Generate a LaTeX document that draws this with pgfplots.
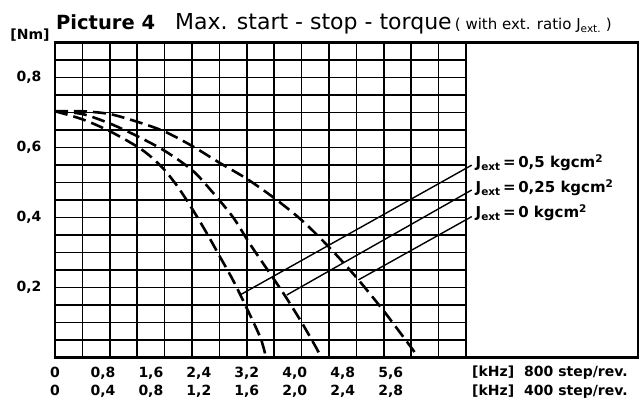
\documentclass[border=0pt]{standalone}
\usepackage{pgfplots}
\pgfplotsset{compat=1.18}
\usepackage{fontspec}
\setmainfont{DejaVu Sans}
\newcommand{\lab}{\bfseries\fontsize{14}{18.3}\selectfont}
\begin{document}
\begin{tikzpicture}
\begin{axis}[
  scale only axis, width=411pt, height=315pt,
  xmin=0, xmax=6.857143, ymin=0, ymax=0.9,
  clip=false,
  axis line style={line width=2.6pt},
  xtick={0.457143,0.914286,1.371429,1.828571,2.285714,2.742857,3.2,3.657143,4.114286,4.571429,5.028571,5.485714,5.942857,6.4},
  ytick={0.05,0.1,0.15,0.2,0.25,0.3,0.35,0.4,0.45,0.5,0.55,0.6,0.65,0.7,0.75,0.8,0.85},
  xticklabels={}, yticklabels={},
  grid=major, major grid style={black, line width=1.6pt},
  major tick length=0pt,
  extra x ticks={0,0.8,1.6,2.4,3.2,4.0,4.8,5.6},
  extra x tick labels={{0\\0},{0,8\\0,4},{1,6\\0,8},{2,4\\1,2},{3,2\\1,6},{4,0\\2,0},{4,8\\2,4},{5,6\\2,8}},
  extra y ticks={0.2,0.4,0.6,0.8},
  extra y tick labels={{0,2},{0,4},{0,6},{0,8}},
  extra tick style={grid=none, major tick length=0pt},
  xticklabel style={align=center, font=\lab, yshift=-6pt},
  yticklabel style={font=\bfseries\fontsize{14}{14}\selectfont, xshift=-10pt},
]
\coordinate (O) at (rel axis cs:0,0);
% J_ext = 0.5 kgcm^2
\addplot[black, line width=2.6pt, dash pattern=on 13pt off 6pt, smooth] coordinates {
(0,0.703) (0.457,0.68) (0.914,0.646) (1.371,0.602) (1.6,0.573) (1.829,0.535) (2.057,0.485) (2.286,0.425) (2.514,0.36) (2.743,0.29) (2.971,0.22) (3.2,0.14) (3.429,0.055) (3.52,0)};
% J_ext = 0.25 kgcm^2
\addplot[black, line width=2.6pt, dash pattern=on 13pt off 6pt, smooth] coordinates {
(0,0.703) (0.457,0.695) (0.914,0.668) (1.371,0.632) (1.829,0.59) (2.286,0.535) (2.587,0.48) (2.971,0.40) (3.259,0.322) (3.657,0.222) (3.867,0.168) (4.114,0.10) (4.343,0.032) (4.44,0)};
% J_ext = 0 kgcm^2
\addplot[black, line width=2.6pt, dash pattern=on 13pt off 6pt, smooth] coordinates {
(0,0.703) (0.457,0.703) (0.914,0.695) (1.371,0.673) (1.829,0.645) (2.286,0.604) (2.743,0.556) (3.2,0.51) (3.657,0.455) (4.114,0.392) (4.571,0.315) (5.029,0.228) (5.486,0.132) (5.943,0.028) (6.06,0)};
% leader lines
\addplot[black, line width=1.4pt] coordinates {(3.086,0.178) (6.952,0.549)};
\addplot[black, line width=1.4pt] coordinates {(3.867,0.178) (6.952,0.478)};
\addplot[black, line width=1.4pt] coordinates {(5.06,0.221) (6.952,0.402)};
\node[anchor=west, font=\bfseries\fontsize{15}{15}\selectfont] at (axis cs:6.96,0.555) {J\textsubscript{ext}\,=\,0,5 kgcm\textsuperscript{2}};
\node[anchor=west, font=\bfseries\fontsize{15}{15}\selectfont] at (axis cs:6.96,0.484) {J\textsubscript{ext}\,=\,0,25 kgcm\textsuperscript{2}};
\node[anchor=west, font=\bfseries\fontsize{15}{15}\selectfont] at (axis cs:6.96,0.413) {J\textsubscript{ext}\,=\,0 kgcm\textsuperscript{2}};
\end{axis}
\draw[line width=2.6pt] (O) rectangle ++(583pt,315pt);
\node[anchor=base west, inner sep=0pt] at ([shift={(1pt,327.3pt)}]O)
  {{\bfseries\fontsize{19.5}{19.5}\selectfont Picture 4}\hspace{20pt}{\fontsize{22}{22}\selectfont Max. start - stop - torque} {\fontsize{15}{15}\selectfont ( with ext. ratio J\textsubscript{ext.} )}};
\node[font=\bfseries\fontsize{14}{14}\selectfont, inner sep=0pt] at ([shift={(-25pt,322.3pt)}]O) {[Nm]};
\node[anchor=base west, inner sep=0pt, font=\lab] at ([shift={(417pt,-19.4pt)}]O) {[kHz]\hspace{10pt}800 step/rev.};
\node[anchor=base west, inner sep=0pt, font=\lab] at ([shift={(417pt,-37.7pt)}]O) {[kHz]\hspace{10pt}400 step/rev.};
\pgfresetboundingbox
\path[use as bounding box] ([shift={(-55pt,-48.7pt)}]O) rectangle ([shift={(589pt,357.3pt)}]O);
\end{tikzpicture}
\end{document}
